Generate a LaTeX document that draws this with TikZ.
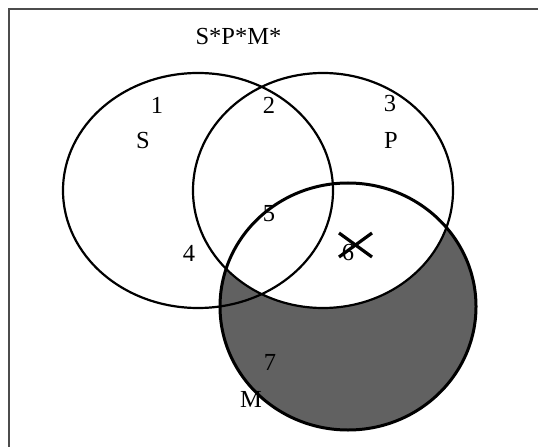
\documentclass[tikz,border=0pt]{standalone}
\usepackage{fontspec}
\setmainfont{Liberation Serif}
\usepackage{xcolor}
\usetikzlibrary{positioning}

\begin{document}
\begin{tikzpicture}[x=1bp,y=-1bp,font=\fontsize{24.5bp}{28bp}\selectfont,
  lbl/.style={inner sep=0pt},
  ring/.style={line width=2.2bp},
  shade/.style={fill=black!62}]
  \useasboundingbox (0,0) rectangle (538,447);
  % frame
  \draw[black!70,line width=1.6bp] (9,447)--(9,9)--(538,9);
  % M minus P shaded
  \fill[shade] (348,306.5) ellipse [x radius=128bp, y radius=123.5bp];
  \fill[white] (323,190.5) ellipse [x radius=130bp, y radius=117.5bp];
  \draw[ring] (198,190.5) ellipse [x radius=135bp, y radius=117.5bp];
  \draw[ring] (323,190.5) ellipse [x radius=130bp, y radius=117.5bp];
  \draw[ring,line width=3bp] (348,306.5) ellipse [x radius=128bp, y radius=123.5bp];
  \node[lbl] (title) at (238.5,37) {S*P*M*};
  \node[lbl] (n1) at (157,105) {1};
  \node[lbl] (n2) at (269,105) {2};
  \node[lbl] (n3) at (390,104) {3};
  \node[lbl] (sS) at (143,141) {S};
  \node[lbl] (sP) at (391,140) {P};
  \node[lbl] (n5) at (269,214) {5};
  \node[lbl] (n4) at (189,253) {4};
  \node[lbl] (n6) at (348,253) {6};
  \node[lbl] (n7) at (270,362) {7};
  \node[lbl] (sM) at (251,399) {M};
  % the cross
  \draw[line width=3.2bp] (339,233)--(372,257);
  \draw[line width=3.2bp] (372,233)--(339,257);
\end{tikzpicture}
\end{document}
